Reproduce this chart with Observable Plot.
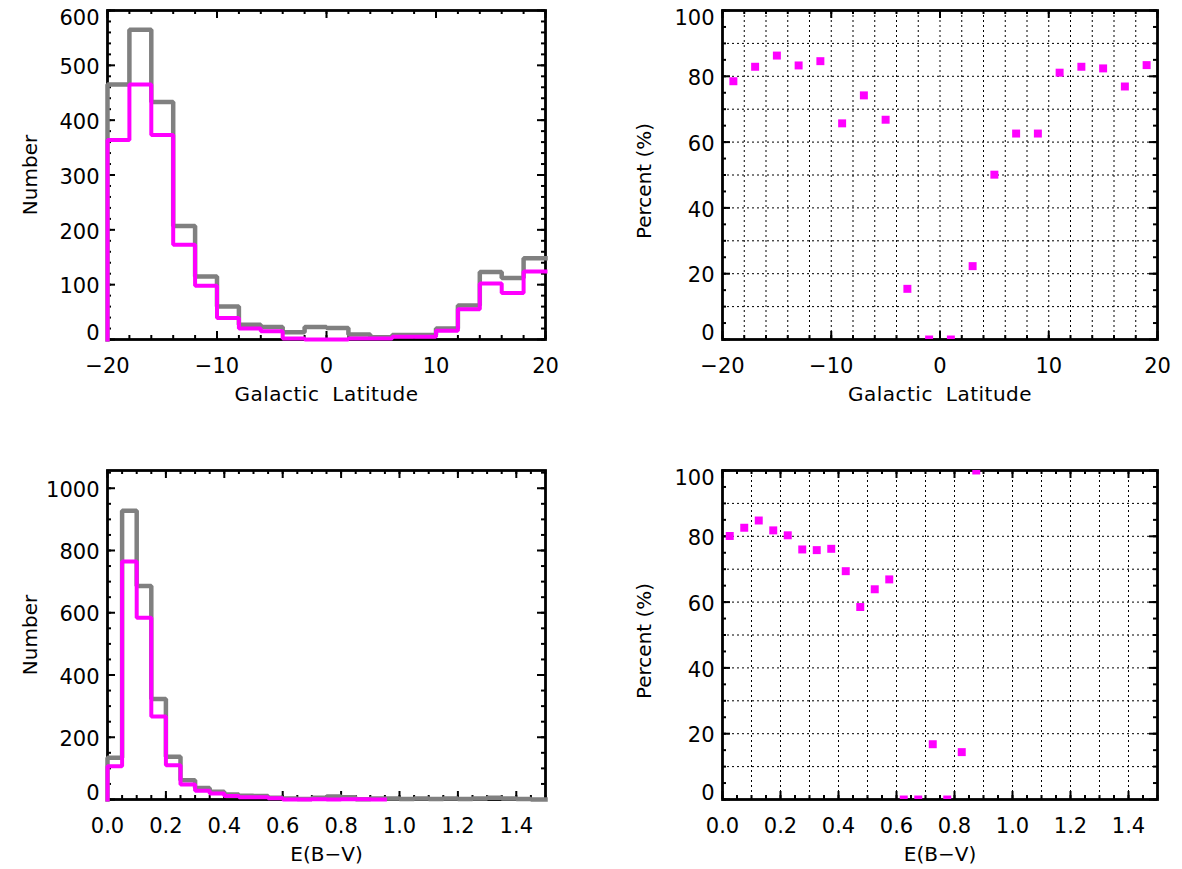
<!DOCTYPE html>
<html><head><meta charset="utf-8">
<script src="https://cdn.jsdelivr.net/npm/d3@7"></script>
<script src="https://cdn.jsdelivr.net/npm/@observablehq/plot@0.6"></script>
<style>
body{margin:0;background:#fff;}
#wrap{position:relative;width:1182px;height:869px;background:#fff;overflow:hidden;}
.panel{position:absolute;}
</style></head><body><div id="wrap"></div>
<script>
// ---------------- data ----------------
const latBinStart = [-20,-18,-16,-14,-12,-10,-8,-6,-4,-2,0,2,4,6,8,10,12,14,16,18];
const latAll      = [465,565,433,207,115,60,27,23,13,23,21,9,4,8,8,20,62,123,112,148];
const latSel      = [364,465,373,173,98,39,20,15,2,0,0,2,2,5,5,16,55,102,85,124];
const latCenters  = [-19,-17,-15,-13,-11,-9,-7,-5,-3,-1,1,3,5,7,9,11,13,15,17,19];
const latPercent  = [78.5,82.9,86.3,83.3,84.6,65.7,74.2,66.8,15.4,0,0,22.3,50.1,62.6,62.6,81.1,82.9,82.4,76.9,83.4];

const ebvBinStart = [0,0.05,0.1,0.15,0.2,0.25,0.3,0.35,0.4,0.45,0.5,0.55,0.6,0.65,0.7,0.75,0.8,0.85,0.9,0.95,1.0,1.05,1.1,1.15,1.2,1.25,1.3,1.35,1.4,1.45];
const ebvAll      = [134,928,686,323,137,62,37,25,16,12,11,6,3,2,6,10,7,1,3,3,2,3,2,3,2,3,6,3,2,0];
const ebvSel      = [107,765,584,267,110,48,28,19,11,7,7,4,0,0,1,0,1,1,0];
const ebvCenters  = [0.025,0.075,0.125,0.175,0.225,0.275,0.325,0.375,0.425,0.475,0.525,0.575,0.625,0.675,0.725,0.775,0.825,0.875];
const ebvPercent  = [80.1,82.6,84.8,81.8,80.3,76.0,75.8,76.2,69.4,58.5,63.9,66.9,0,0,16.8,0,14.4,100];

const latTicks      = [-20,-10,0,10,20];
const ebvTicks      = [0,0.2,0.4,0.6,0.8,1.0,1.2,1.4];
const countTicksLat = [0,100,200,300,400,500,600];
const countTicksEbv = [0,200,400,600,800,1000];
const percentTicks  = [0,20,40,60,80,100];

const GRAY = "#808080", MAG = "#ff00ff";
const FONT = "DejaVu Sans";

// ---------------- helpers ----------------
function steps(starts, vals, w) {
  const pts = [{x: starts[0], y: 0}];
  vals.forEach((v, i) => pts.push({x: starts[i], y: v}));
  pts.push({x: starts[vals.length - 1] + w, y: vals[vals.length - 1]});
  return pts;
}
function fmtLat(d) { return d < 0 ? "\u2212" + (-d) : String(d); }
function fmtEbv(d) { return d.toFixed(1); }

function panel(cfg) {
  const {left, top, width, height, mt, mb, ml, mr, xDomain, yDomain,
         xMajor, xMinorStep, yMajor, yMinorStep, xGrid, yGrid, xFmt,
         xLabel, yLabel, yLabelDx, yLabelDy = 0, marks} = cfg;
  const innerW = width - ml - mr, innerH = height - mt - mb;
  const eps = 1e-9;
  const xMinor = d3.range(xDomain[0], xDomain[1] + eps, xMinorStep).map(v => +v.toFixed(6));
  const yMinor = d3.range(yDomain[0], yDomain[1] + eps, yMinorStep).map(v => +v.toFixed(6));
  const tk = {stroke: "black", strokeWidth: 2};
  const ypos = v => innerH * (1 - (v - yDomain[0]) / (yDomain[1] - yDomain[0]));
  const yTop = yMajor.filter(v => ypos(v) < 8);
  const yBot = yMajor.filter(v => innerH - ypos(v) < 8);
  const yMid = yMajor.filter(v => !yTop.includes(v) && !yBot.includes(v));
  const lab = {fontSize: 21, fontFamily: FONT, fill: "black", lineAnchor: "middle"};
  const ttl = {fontSize: 20, fontFamily: FONT, fill: "black", lineAnchor: "middle", textAnchor: "middle"};
  const gridMarks = [];
  if (xGrid) gridMarks.push(Plot.ruleX(xGrid, {x: d => d, stroke: "black", strokeWidth: 1, strokeDasharray: "2,3"}));
  if (yGrid) gridMarks.push(Plot.ruleY(yGrid, {y: d => d, stroke: "black", strokeWidth: 1, strokeDasharray: "2,3"}));
  const chart = Plot.plot({
    width, height, marginTop: mt, marginBottom: mb, marginLeft: ml, marginRight: mr,
    style: {fontFamily: FONT, fontSize: "20px", background: "white", overflow: "visible"},
    x: {domain: xDomain, axis: null},
    y: {domain: yDomain, axis: null},
    marks: [
      ...gridMarks,
      Plot.ruleX(xMinor, {x: d => d, insetTop: innerH - 4, ...tk}),
      Plot.ruleX(xMinor, {x: d => d, insetBottom: innerH - 4, ...tk}),
      Plot.ruleX(xMajor, {x: d => d, insetTop: innerH - 8, ...tk}),
      Plot.ruleX(xMajor, {x: d => d, insetBottom: innerH - 8, ...tk}),
      Plot.ruleY(yMinor, {y: d => d, insetRight: innerW - 4, ...tk}),
      Plot.ruleY(yMinor, {y: d => d, insetLeft: innerW - 4, ...tk}),
      Plot.ruleY(yMajor, {y: d => d, insetRight: innerW - 8, ...tk}),
      Plot.ruleY(yMajor, {y: d => d, insetLeft: innerW - 8, ...tk}),
      Plot.frame({stroke: "black", strokeWidth: 2.8}),
      ...marks,
      Plot.text(xMajor, {x: d => d, text: xFmt, frameAnchor: "bottom", textAnchor: "middle", dy: 27, ...lab}),
      Plot.text(yMid, {y: d => d, text: d => String(d), frameAnchor: "left", textAnchor: "end", dx: -8, dy: 2, ...lab}),
      Plot.text(yTop, {y: d => d, text: d => String(d), frameAnchor: "left", textAnchor: "end", dx: -8, dy: 8, ...lab}),
      Plot.text(yBot, {y: d => d, text: d => String(d), frameAnchor: "left", textAnchor: "end", dx: -8, dy: -6, ...lab}),
      Plot.text([xLabel], {text: d => d, frameAnchor: "bottom", dy: 55, ...ttl}),
      Plot.text([yLabel], {text: d => d, frameAnchor: "left", rotate: -90, dx: yLabelDx, dy: yLabelDy, ...ttl})
    ]
  });
  // slightly wider word spacing for the x title, as in the original
  d3.select(chart).selectAll("text").filter(function() { return this.textContent === "Galactic Latitude"; })
    .style("word-spacing", "6px").style("letter-spacing", "0.5px");
  const div = document.createElement("div");
  div.className = "panel";
  div.style.left = left + "px";
  div.style.top = top + "px";
  div.style.width = width + "px";
  div.style.height = height + "px";
  div.appendChild(chart);
  document.getElementById("wrap").appendChild(div);
}

const histLine = (pts, color, w) => Plot.line(pts, {x: "x", y: "y", curve: "step-after", stroke: color, strokeWidth: w, strokeLinejoin: "miter", strokeLinecap: "square"});

// Top-left: latitude histogram
panel({
  left: 0, top: 0, width: 591, height: 434, mt: 10, mb: 95, ml: 107, mr: 46,
  xDomain: [-20, 20], yDomain: [0, 600],
  xMajor: latTicks, xMinorStep: 2, yMajor: countTicksLat, yMinorStep: 20,
  xFmt: fmtLat, xLabel: "Galactic Latitude", yLabel: "Number", yLabelDx: -77,
  marks: [
    histLine(steps(latBinStart, latAll, 2), GRAY, 4.5),
    histLine(steps(latBinStart, latSel, 2), MAG, 4)
  ]
});

// Top-right: latitude percent
panel({
  left: 591, top: 0, width: 591, height: 434, mt: 10, mb: 95, ml: 131, mr: 25,
  xDomain: [-20, 20], yDomain: [0, 100],
  xMajor: latTicks, xMinorStep: 2, yMajor: percentTicks, yMinorStep: 5,
  xGrid: d3.range(-18, 20, 2), yGrid: d3.range(10, 100, 10),
  xFmt: fmtLat, xLabel: "Galactic Latitude", yLabel: "Percent (%)", yLabelDx: -78, yLabelDy: 6,
  marks: [
    Plot.dot(latCenters.map((c, i) => ({x: c, y: latPercent[i]})), {x: "x", y: "y", symbol: "square", r: 4.5, fill: MAG, stroke: "none", clip: true})
  ]
});

// Bottom-left: E(B-V) histogram
panel({
  left: 0, top: 434, width: 591, height: 435, mt: 36, mb: 70, ml: 107, mr: 46,
  xDomain: [0, 1.5], yDomain: [0, 1057],
  xMajor: ebvTicks, xMinorStep: 0.05, yMajor: countTicksEbv, yMinorStep: 50,
  xFmt: fmtEbv, xLabel: "E(B\u2212V)", yLabel: "Number", yLabelDx: -77,
  marks: [
    histLine(steps(ebvBinStart, ebvAll, 0.05), GRAY, 4.5),
    histLine(steps(ebvBinStart, ebvSel, 0.05), MAG, 4)
  ]
});

// Bottom-right: E(B-V) percent
panel({
  left: 591, top: 434, width: 591, height: 435, mt: 36, mb: 70, ml: 131, mr: 25,
  xDomain: [0, 1.5], yDomain: [0, 100],
  xMajor: ebvTicks, xMinorStep: 0.05, yMajor: percentTicks, yMinorStep: 5,
  xGrid: d3.range(1, 15).map(k => k / 10), yGrid: d3.range(10, 100, 10),
  xFmt: fmtEbv, xLabel: "E(B\u2212V)", yLabel: "Percent (%)", yLabelDx: -78, yLabelDy: 6,
  marks: [
    Plot.dot(ebvCenters.map((c, i) => ({x: c, y: ebvPercent[i]})), {x: "x", y: "y", symbol: "square", r: 4.5, fill: MAG, stroke: "none", clip: true})
  ]
});
</script>
</body></html>
